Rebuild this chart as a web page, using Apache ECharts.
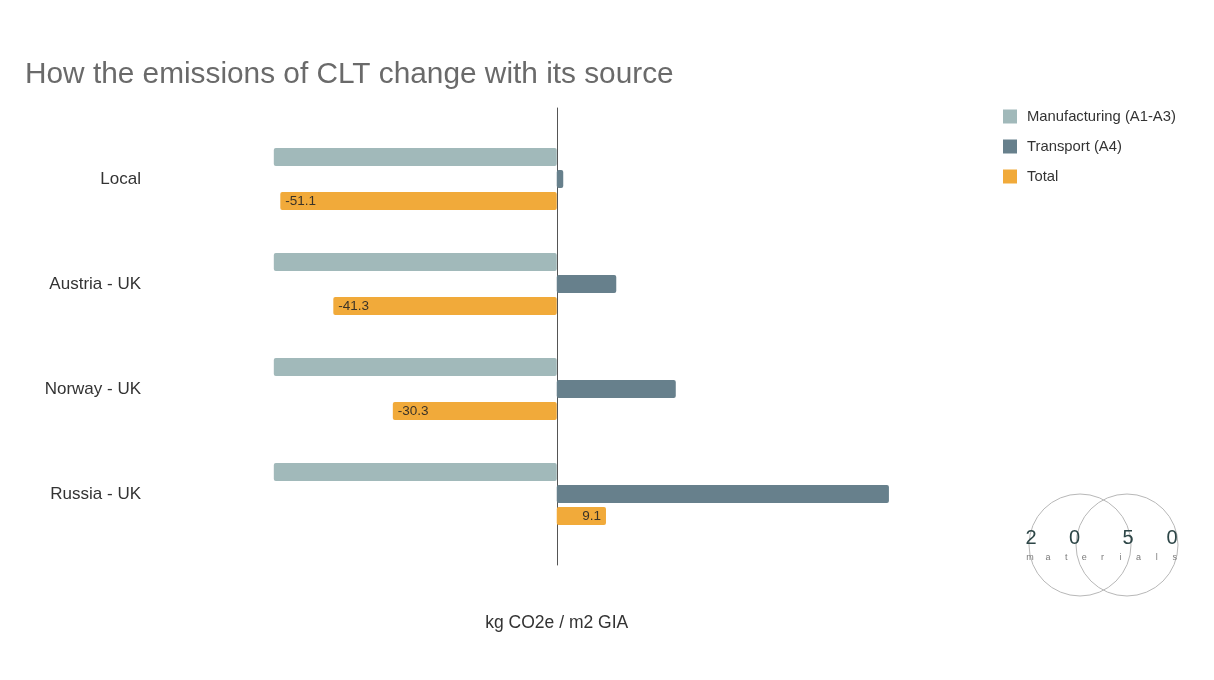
<!DOCTYPE html>
<html>
<head>
<meta charset="utf-8">
<script src="https://cdn.jsdelivr.net/npm/echarts@6/dist/echarts.min.js"></script>
<style>html,body{margin:0;padding:0;background:#fff;}#c{width:1214px;height:680px;}</style>
</head>
<body>
<div id="c"></div>
<script>
const categories = ['Local', 'Austria - UK', 'Norway - UK', 'Russia - UK'];
const seriesNames = ['Manufacturing (A1-A3)', 'Transport (A4)', 'Total'];
const manufacturing = [-52.3, -52.3, -52.3, -52.3];
const transport = [1.2, 11.0, 22.0, 61.4];
const total = [-51.1, -41.3, -30.3, 9.1];
const titleText = 'How the emissions of CLT change with its source';
const axisName = 'kg CO2e / m2 GIA';

const colors = ['#a1b9ba', '#67808c', '#f1aa3a'];
const FONT = '"Liberation Sans", Arial, sans-serif';

const chart = echarts.init(document.getElementById('c'), null, {renderer: 'canvas'});

const totalData = total.map(v => ({
  value: v,
  label: {position: v < 0 ? 'insideLeft' : 'insideRight'}
}));

const barCommon = {
  type: 'bar',
  barWidth: 18,
  barGap: '22%',
  xAxisIndex: 0,
  yAxisIndex: 0
};

// logo decoration
const logoDigits = ['2', '0', '5', '0'];
const logoDigitX = [1031, 1074.5, 1128, 1172];
const logoWord = 'materials'.split('');
const graphics = [
  {type: 'circle', shape: {cx: 1080, cy: 545, r: 51}, style: {fill: 'none', stroke: '#b8b8b8', lineWidth: 1}},
  {type: 'circle', shape: {cx: 1127, cy: 545, r: 51}, style: {fill: 'none', stroke: '#b8b8b8', lineWidth: 1}}
];
logoDigits.forEach((d, i) => graphics.push({
  type: 'text', x: logoDigitX[i], y: 538,
  style: {text: d, font: '20px ' + FONT, fill: '#2c4546', textAlign: 'center', textVerticalAlign: 'middle'}
}));
logoWord.forEach((ch, i) => graphics.push({
  type: 'text', x: 1030 + i * 18.1, y: 558,
  style: {text: ch, font: '9px ' + FONT, fill: '#7a7a7a', textAlign: 'center', textVerticalAlign: 'middle'}
}));

chart.setOption({
  backgroundColor: '#ffffff',
  animation: false,
  title: {
    text: titleText,
    left: 20,
    top: 55,
    textStyle: {fontFamily: FONT, fontSize: 29.8, fontWeight: 'normal', color: '#6a6a6a'}
  },
  legend: {
    orient: 'vertical',
    left: 998,
    top: 104,
    itemWidth: 14,
    itemHeight: 14,
    itemGap: 15,
    icon: 'rect',
    data: seriesNames,
    textStyle: {fontFamily: FONT, fontSize: 14.8, color: '#333', padding: [0, 0, 0, 5]}
  },
  grid: [
    {left: 151, right: 251.5, top: 126.5, bottom: 133.5, containLabel: false},
    {left: 151, right: 251.5, top: 108, bottom: 115, containLabel: false}
  ],
  xAxis: [
    {
      type: 'value', gridIndex: 0, min: -75, max: 75,
      axisLine: {show: false}, axisTick: {show: false}, axisLabel: {show: false},
      splitLine: {show: false},
      name: axisName, nameLocation: 'middle', nameGap: 68,
      nameTextStyle: {fontFamily: FONT, fontSize: 17.5, color: '#333'}
    },
    {
      type: 'value', gridIndex: 1, min: -75, max: 75, show: false
    }
  ],
  yAxis: [
    {
      type: 'category', gridIndex: 0, data: categories, inverse: true,
      axisLine: {show: false}, axisTick: {show: false}, splitLine: {show: false},
      position: 'left',
      axisLabel: {fontFamily: FONT, fontSize: 17, color: '#333', margin: 10}
    },
    {
      type: 'value', gridIndex: 1, min: 0, max: 1,
      axisLine: {show: true, onZero: true, lineStyle: {color: '#555', width: 1}},
      axisTick: {show: false}, axisLabel: {show: false}, splitLine: {show: false}
    }
  ],
  series: [
    Object.assign({}, barCommon, {name: seriesNames[0], data: manufacturing, itemStyle: {color: colors[0], borderRadius: 2}}),
    Object.assign({}, barCommon, {name: seriesNames[1], data: transport, itemStyle: {color: colors[1], borderRadius: 2}}),
    Object.assign({}, barCommon, {
      name: seriesNames[2], data: totalData, itemStyle: {color: colors[2], borderRadius: 2},
      label: {show: true, fontFamily: FONT, fontSize: 13.5, color: '#3a3328', distance: 5,
        formatter: p => p.value.toFixed(1)}
    })
  ],
  graphic: graphics
});
</script>
</body>
</html>
